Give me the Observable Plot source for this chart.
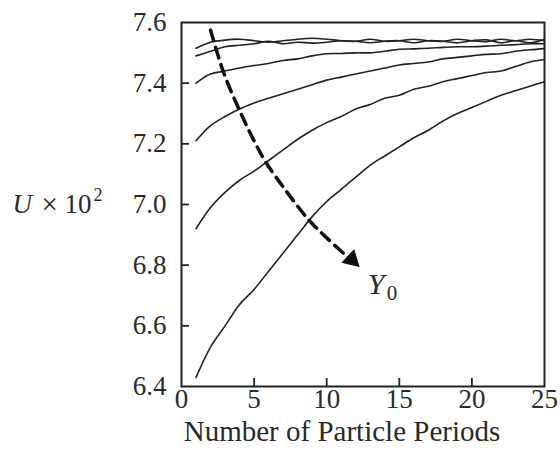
<!DOCTYPE html>
<html><head><meta charset="utf-8">
<script src="https://cdn.jsdelivr.net/npm/d3@7"></script>
<script src="https://cdn.jsdelivr.net/npm/@observablehq/plot@0.6"></script>
<style>body{margin:0;background:#fff}</style>
</head><body><div id="chart"></div>
<script>
const periods = [1,2,3,4,5,6,7,8,9,10,11,12,13,14,15,16,17,18,19,20,21,22,23,24,25];
const seriesA = [6.43,6.53,6.60,6.67,6.72,6.78,6.84,6.90,6.96,7.01,7.05,7.09,7.13,7.16,7.19,7.22,7.245,7.275,7.30,7.32,7.34,7.36,7.375,7.39,7.405];
const seriesB = [6.92,6.99,7.04,7.08,7.11,7.145,7.18,7.215,7.245,7.27,7.29,7.315,7.33,7.35,7.36,7.38,7.39,7.405,7.415,7.425,7.435,7.44,7.455,7.47,7.478];
const seriesC = [7.21,7.26,7.29,7.315,7.335,7.35,7.365,7.38,7.395,7.41,7.42,7.43,7.44,7.45,7.46,7.465,7.47,7.48,7.485,7.49,7.495,7.497,7.505,7.51,7.514];
const seriesD = [7.40,7.43,7.44,7.45,7.458,7.465,7.475,7.48,7.49,7.497,7.498,7.50,7.50,7.505,7.512,7.513,7.515,7.518,7.52,7.52,7.522,7.525,7.527,7.53,7.53];
const seriesE = [7.515,7.535,7.542,7.545,7.54,7.535,7.54,7.545,7.548,7.545,7.54,7.538,7.545,7.538,7.54,7.545,7.54,7.538,7.545,7.54,7.537,7.545,7.54,7.545,7.54];
const seriesF = [7.49,7.505,7.52,7.525,7.53,7.538,7.53,7.535,7.532,7.535,7.54,7.538,7.533,7.538,7.54,7.533,7.54,7.538,7.533,7.54,7.543,7.533,7.54,7.533,7.545];
const seriesNames = ["A","B","C","D","E","F"];
const seriesValues = [seriesA, seriesB, seriesC, seriesD, seriesE, seriesF];

const arrowX = [2.0, 2.9, 4.0, 5.0, 5.8, 7.2, 8.75, 10.0, 11.6];
const arrowY = [7.575, 7.435, 7.31, 7.21, 7.14, 7.045, 6.95, 6.89, 6.82];
const arrowTip = {x: 12.0, y: 6.805};

const xTicks = [0,5,10,15,20,25];
const yTicks = [6.4,6.6,6.8,7.0,7.2,7.4,7.6];
const xLabel = "Number of Particle Periods";
const yLabelParts = [
  {t: "U", italic: true, size: 27, dx: -169, dy: 0},
  {t: "×", italic: false, size: 29, dx: -140, dy: 0},
  {t: "10", italic: false, size: 27, dx: -117, dy: 0},
  {t: "2", italic: false, size: 18, dx: -88, dy: -9}
];
const curveLabel = {x: 13.4, y: 6.735, main: "Y", sub: "0"};

const rows = [];
seriesNames.forEach((name, i) => periods.forEach((p, j) => rows.push({series: name, x: p, y: seriesValues[i][j]})));
const arrowRows = arrowX.map((x, i) => ({x, y: arrowY[i]}));

const ink = "#222";
const txt = "#2a2a2a";
const font = "Liberation Serif, Times New Roman, serif";

const yLabelMarks = yLabelParts.map(p => Plot.text([{y: 7.0, t: p.t}], {
  y: "y", text: "t", frameAnchor: "left", textAnchor: "start", dx: p.dx, dy: p.dy,
  fontSize: p.size, fontStyle: p.italic ? "italic" : "normal", fill: txt
}));

const chart = Plot.plot({
  width: 560, height: 452,
  marginLeft: 181, marginRight: 16, marginTop: 22, marginBottom: 66,
  style: {fontFamily: font, background: "#fff", color: txt},
  x: {domain: [0, 25]},
  y: {domain: [6.4, 7.6]},
  marks: [
    Plot.ruleX(xTicks.slice(1, -1), {x: d => d, insetTop: 364 - 8, stroke: ink, strokeWidth: 1.8}),
    Plot.ruleY(yTicks.slice(1, -1), {y: d => d, insetRight: 363 - 8, stroke: ink, strokeWidth: 1.8}),
    Plot.axisX({ticks: xTicks, tickSize: 0, tickPadding: 2, tickFormat: d => String(d), fontSize: 27, label: null, color: txt}),
    Plot.axisY({ticks: yTicks, tickSize: 0, tickPadding: 15, tickFormat: d3.format(".1f"), fontSize: 27, label: null, color: txt}),
    Plot.line(rows, {x: "x", y: "y", z: "series", stroke: ink, strokeWidth: 1.6, curve: "catmull-rom"}),
    Plot.line(arrowRows, {x: "x", y: "y", stroke: "#111", strokeWidth: 3.5, strokeDasharray: "11,7", curve: "catmull-rom"}),
    Plot.dot([arrowTip], {x: "x", y: "y", symbol: "triangle", r: 6, fill: "#111", stroke: "#111", rotate: 133, dx: -4, dy: -4}),
    Plot.text([curveLabel], {x: "x", y: "y", text: "main", fontSize: 30, fontStyle: "italic", fill: txt}),
    Plot.text([curveLabel], {x: "x", y: "y", text: "sub", fontSize: 21, fill: txt, dx: 16, dy: 8}),
    Plot.text([xLabel], {text: d => d, frameAnchor: "bottom", dx: -21, dy: 54, fontSize: 29, fill: txt, ariaLabel: "x-title"}),
    ...yLabelMarks,
    Plot.frame({stroke: ink, strokeWidth: 2})
  ]
});
d3.select(chart).selectAll('g[aria-label="x-title"] text').attr("letter-spacing", "0.8px");
document.getElementById("chart").appendChild(chart);
</script>
</body></html>
